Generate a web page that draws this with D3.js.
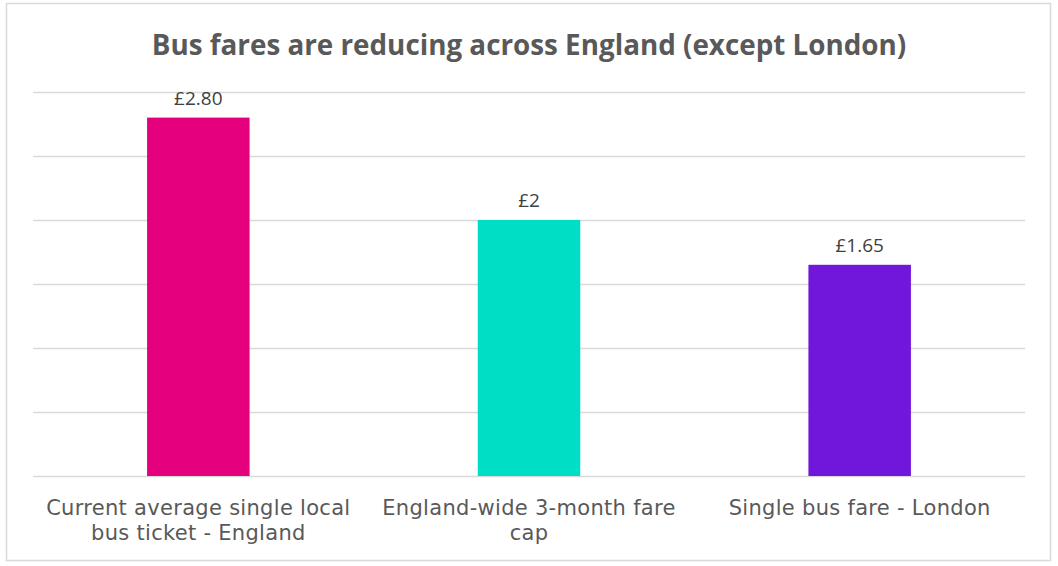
<!DOCTYPE html>
<html>
<head>
<meta charset="utf-8">
<script src="https://cdn.jsdelivr.net/npm/d3@7"></script>
<style>
  body { margin: 0; background: #fff; }
  .cat { font-family: Verdana, "DejaVu Sans", sans-serif; }
</style>
</head>
<body>
<div id="wrapper"></div>
<script>
// data
const categories = [
  ["Current average single local", "bus ticket - England"],
  ["England-wide 3-month fare", "cap"],
  ["Single bus fare - London"],
]
const fares = [2.80, 2, 1.65]
const fareLabels = ["£2.80", "£2", "£1.65"]
const barColors = ["#e5007d", "#00dec5", "#7117db"]
const yTicks = [0, 0.5, 1, 1.5, 2, 2.5, 3]

const dimensions = {
  width: 1058,
  height: 566,
  margin: { top: 92, right: 33, bottom: 90, left: 33 },
}
dimensions.boundedWidth = dimensions.width - dimensions.margin.left - dimensions.margin.right
dimensions.boundedHeight = dimensions.height - dimensions.margin.top - dimensions.margin.bottom

const svg = d3.select("#wrapper")
  .append("svg")
    .attr("width", dimensions.width)
    .attr("height", dimensions.height)

// chart border
svg.append("rect")
    .attr("x", 6.5)
    .attr("y", 3.5)
    .attr("width", 1044)
    .attr("height", 557)
    .attr("fill", "#fff")
    .attr("stroke", "#d9d9d9")
    .attr("stroke-width", 1.5)

svg.append("text")
    .attr("x", dimensions.width / 2)
    .attr("y", 55)
    .attr("text-anchor", "middle")
    .style("font-family", "'Open Sans', sans-serif")
    .style("font-weight", "bold")
    .style("font-size", "27.8px")
    .style("fill", "#595959")
    .text("Bus fares are reducing across England (except London)")

const bounds = svg.append("g")
    .attr("transform", `translate(${dimensions.margin.left}, ${dimensions.margin.top})`)

const xScale = d3.scaleBand()
  .domain(d3.range(fares.length))
  .range([0, dimensions.boundedWidth])
  .paddingInner(0.69)
  .paddingOuter(0.345)

const yScale = d3.scaleLinear()
  .domain([0, 3])
  .range([dimensions.boundedHeight, 0])

// gridlines
const yAxisGenerator = d3.axisLeft(yScale)
  .tickValues(yTicks)
  .tickSize(-dimensions.boundedWidth)
  .tickFormat("")

bounds.append("g")
    .call(yAxisGenerator)
    .call(g => g.select(".domain").remove())
    .call(g => g.selectAll(".tick line")
      .attr("stroke", "#d9d9d9")
      .attr("stroke-width", 1.5))

bounds.selectAll("rect.bar")
  .data(fares)
  .join("rect")
    .attr("class", "bar")
    .attr("x", (d, i) => xScale(i))
    .attr("y", d => yScale(d))
    .attr("width", xScale.bandwidth())
    .attr("height", d => dimensions.boundedHeight - yScale(d))
    .attr("fill", (d, i) => barColors[i])

bounds.selectAll("text.value")
  .data(fares)
  .join("text")
    .attr("class", "value")
    .attr("x", (d, i) => xScale(i) + xScale.bandwidth() / 2)
    .attr("y", d => yScale(d) - 13)
    .attr("text-anchor", "middle")
    .style("font-family", "'Open Sans', sans-serif")
    .style("font-size", "19px")
    .style("fill", "#404040")
    .text((d, i) => fareLabels[i])

// category labels, one text per line
const catLines = categories.flatMap((lines, i) => lines.map((t, j) => ({ i, j, t })))

bounds.selectAll("text.cat")
  .data(catLines)
  .join("text")
    .attr("class", "cat")
    .attr("x", d => xScale(d.i) + xScale.bandwidth() / 2)
    .attr("y", d => dimensions.boundedHeight + 39 + d.j * 25)
    .attr("text-anchor", "middle")
    .style("font-size", "21px")
    .style("letter-spacing", "0.3px")
    .style("fill", "#595959")
    .text(d => d.t)
</script>
</body>
</html>
